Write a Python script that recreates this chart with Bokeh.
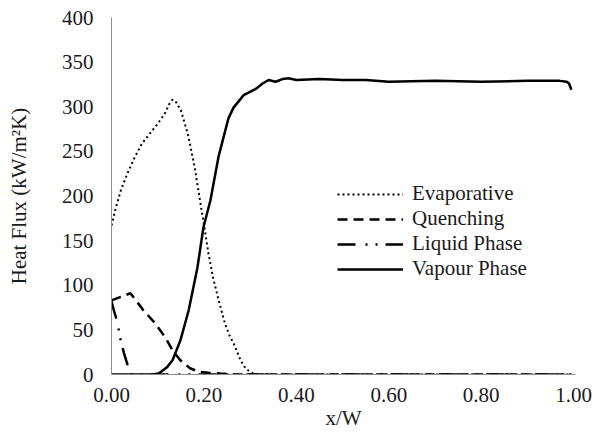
from bokeh.plotting import figure
from bokeh.models import Range1d, FixedTicker, NumeralTickFormatter, Legend, LegendItem
from bokeh.embed import file_html
from bokeh.resources import INLINE

# ---- data ----
evap_x = [0, 0.01, 0.02, 0.035, 0.05, 0.065, 0.08, 0.10, 0.115, 0.125, 0.132, 0.14, 0.15,
          0.165, 0.18, 0.19, 0.20, 0.21, 0.22, 0.232, 0.245, 0.255, 0.265, 0.28, 0.29, 0.30,
          0.31, 0.40, 0.60, 0.80, 0.995]
evap_y = [167, 188, 206, 226, 243, 258, 268, 281, 292, 303, 308, 305, 296,
          270, 232, 200, 168, 135, 108, 83, 58, 44, 34, 15, 7, 3,
          0, 0, 0, 0, 0]

quench_x = [0, 0.02, 0.041, 0.069, 0.095, 0.117, 0.132, 0.149, 0.17, 0.19, 0.21, 0.236, 0.27,
            0.40, 0.60, 0.80, 0.995]
quench_y = [83, 87, 91, 72, 57, 41, 27, 16, 7, 3, 2, 1, 0,
            0, 0, 0, 0]

liquid_x = [0, 0.005, 0.012, 0.02, 0.027, 0.034, 0.04, 0.06, 0.40, 0.60, 0.80, 0.995]
liquid_y = [82, 72, 60, 38, 24, 12, 0, 0, 0, 0, 0, 0]

vapour_x = [0, 0.05, 0.09, 0.102, 0.12, 0.132, 0.149, 0.167, 0.186, 0.199, 0.214, 0.232,
            0.253, 0.264, 0.286, 0.312, 0.327, 0.34, 0.355, 0.37, 0.383, 0.40, 0.45, 0.50,
            0.55, 0.60, 0.70, 0.80, 0.90, 0.97, 0.985, 0.99, 0.995]
vapour_y = [0, 0, 0, 1, 8, 16, 38, 72, 120, 165, 195, 245,
            287, 299, 313, 320, 326, 330, 328, 331, 332, 330, 331, 330,
            330, 328, 329, 328, 329, 329, 328, 326, 319]

x_ticks = [0, 0.2, 0.4, 0.6, 0.8, 1.0]
y_ticks = [0, 50, 100, 150, 200, 250, 300, 350, 400]

FONT = "Liberation Serif"
TXT = "#1a1a1a"
FS = "21px"

p = figure(width=599, height=435, output_backend="svg", toolbar_location=None,
           x_range=Range1d(0, 1.004), y_range=Range1d(0, 400),
           min_border_left=111, min_border_right=24, min_border_top=17, min_border_bottom=61)
p.grid.visible = False
p.outline_line_color = None
p.background_fill_color = "white"

for ax in (p.xaxis[0], p.yaxis[0]):
    ax.axis_line_color = "#8c8c8c"
    ax.axis_line_width = 1
    ax.major_tick_line_color = None
    ax.minor_tick_line_color = None
    ax.major_tick_out = 0
    ax.major_tick_in = 0
    ax.minor_tick_out = 0
    ax.major_label_text_font = FONT
    ax.major_label_text_font_size = FS
    ax.major_label_text_color = TXT
    ax.axis_label_text_font = FONT
    ax.axis_label_text_font_size = FS
    ax.axis_label_text_font_style = "normal"
    ax.axis_label_text_color = TXT

p.xaxis.ticker = FixedTicker(ticks=x_ticks)
p.xaxis.formatter = NumeralTickFormatter(format="0.00")
p.xaxis.axis_label = "x/W"
p.xaxis.major_label_standoff = 13
p.xaxis.axis_label_standoff = 1

p.yaxis.ticker = FixedTicker(ticks=y_ticks)
p.yaxis.axis_label = "Heat Flux (kW/m²K)"
p.yaxis.major_label_standoff = 18
p.yaxis.axis_label_standoff = 28

r_evap = p.line(evap_x, evap_y, line_color="black", line_width=2, line_dash="2 3")
r_quench = p.line(quench_x, quench_y, line_color="black", line_width=2.5, line_dash="10 6")
r_liquid = p.line(liquid_x, liquid_y, line_color="black", line_width=2.5,
                  line_dash="18 10 2 8 2 8")
r_vapour = p.line(vapour_x, vapour_y, line_color="black", line_width=2.5)

legend = Legend(items=[
    LegendItem(label="Evaporative", renderers=[r_evap]),
    LegendItem(label="Quenching", renderers=[r_quench]),
    LegendItem(label="Liquid Phase", renderers=[r_liquid]),
    LegendItem(label="Vapour Phase", renderers=[r_vapour]),
], location=(226, 93))
legend.label_text_font = FONT
legend.label_text_font_size = FS
legend.label_text_color = TXT
legend.glyph_width = 66
legend.glyph_height = 24
legend.label_height = 24
legend.spacing = 0
legend.padding = 0
legend.margin = 0
legend.label_standoff = 9
legend.border_line_alpha = 0
legend.background_fill_alpha = 0
p.add_layout(legend)

open("out.html", "w").write(file_html(p, INLINE))
